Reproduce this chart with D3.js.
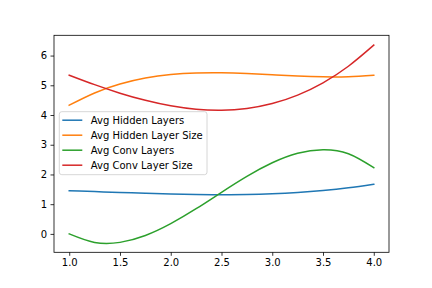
<!DOCTYPE html>
<html><head><meta charset="utf-8">
<script src="https://cdn.jsdelivr.net/npm/d3@7"></script>
<style>body{margin:0;background:#fff}svg{display:block;font-family:"DejaVu Sans",sans-serif}</style>
</head><body><div id="chart"></div>
<script>
const xValues = [1, 1.25, 1.5, 1.75, 2, 2.25, 2.5, 2.75, 3, 3.25, 3.5, 3.75, 4];
const avgHiddenLayers = [1.45, 1.423, 1.394, 1.366, 1.343, 1.326, 1.32, 1.327, 1.351, 1.394, 1.459, 1.55, 1.67];
const avgHiddenLayerSize = [4.33, 4.742, 5.041, 5.242, 5.362, 5.416, 5.423, 5.397, 5.354, 5.311, 5.284, 5.289, 5.34];
const avgConvLayers = [0, -0.287, -0.285, -0.053, 0.345, 0.847, 1.40, 1.936, 2.393, 2.713, 2.832, 2.699, 2.23];
const avgConvLayerSize = [5.34, 5.021, 4.735, 4.494, 4.309, 4.194, 4.161, 4.221, 4.386, 4.67, 5.084, 5.64, 6.35];
const seriesNames = ["Avg Hidden Layers", "Avg Hidden Layer Size", "Avg Conv Layers", "Avg Conv Layer Size"];
const seriesColors = ["#1f77b4", "#ff7f0e", "#2ca02c", "#d62728"];
const xTicks = [1.0, 1.5, 2.0, 2.5, 3.0, 3.5, 4.0];
const yTicks = [0, 1, 2, 3, 4, 5, 6];

const W = 432, H = 288;
const L = 54, R = 389, T = 35.3, B = 252.3;
const allSeries = [avgHiddenLayers, avgHiddenLayerSize, avgConvLayers, avgConvLayerSize];

const svg = d3.select("#chart").append("svg").attr("width", W).attr("height", H);

const xmin = d3.min(xValues), xmax = d3.max(xValues);
const xm = (xmax - xmin) * 0.05;
const ymin = d3.min(allSeries, s => d3.min(s)), ymax = d3.max(allSeries, s => d3.max(s));
const ym = (ymax - ymin) * 0.05;
const x = d3.scaleLinear().domain([xmin - xm, xmax + xm]).range([L, R]);
const y = d3.scaleLinear().domain([ymin - ym, ymax + ym]).range([B, T]);

const line = d3.line().x(d => x(d[0])).y(d => y(d[1])).curve(d3.curveNatural);
const g = svg.append("g");
allSeries.forEach((s, i) => {
  g.append("path").datum(xValues.map((xv, j) => [xv, s[j]]))
    .attr("d", line).attr("fill", "none").attr("stroke", seriesColors[i])
    .attr("stroke-width", 1.5).attr("stroke-linecap", "square");
});

// axes
const xAxis = svg.append("g").attr("transform", `translate(0,${B})`)
  .call(d3.axisBottom(x).tickValues(xTicks).tickFormat(d3.format(".1f")).tickSize(3.5).tickPadding(3.5));
const yAxis = svg.append("g").attr("transform", `translate(${L},0)`)
  .call(d3.axisLeft(y).tickValues(yTicks).tickFormat(d3.format("d")).tickSize(3.5).tickPadding(3.5));
[xAxis, yAxis].forEach(a => {
  a.select(".domain").remove();
  a.selectAll("line").attr("stroke", "#000").attr("stroke-width", 0.8);
  a.selectAll("text").attr("fill", "#000").style("font-size", "10px").style("font-family", "DejaVu Sans");
});

svg.append("rect").attr("x", L).attr("y", T).attr("width", R - L).attr("height", B - T)
  .attr("fill", "none").attr("stroke", "#000").attr("stroke-width", 0.8);

// legend
const lg = svg.append("g").attr("transform", "translate(59.3,111.7)");
lg.append("rect").attr("width", 147.7).attr("height", 63).attr("rx", 2.5)
  .attr("fill", "#fff").attr("fill-opacity", 0.8).attr("stroke", "#ccc").attr("stroke-width", 0.8);
seriesNames.forEach((n, i) => {
  const yy = 8.5 + i * 15;
  lg.append("line").attr("x1", 3).attr("x2", 23).attr("y1", yy).attr("y2", yy)
    .attr("stroke", seriesColors[i]).attr("stroke-width", 1.5);
  lg.append("text").attr("x", 31.5).attr("y", yy).attr("dy", "0.35em")
    .style("font-size", "10px").style("font-family", "DejaVu Sans").attr("fill", "#000").text(n);
});
</script></body></html>
